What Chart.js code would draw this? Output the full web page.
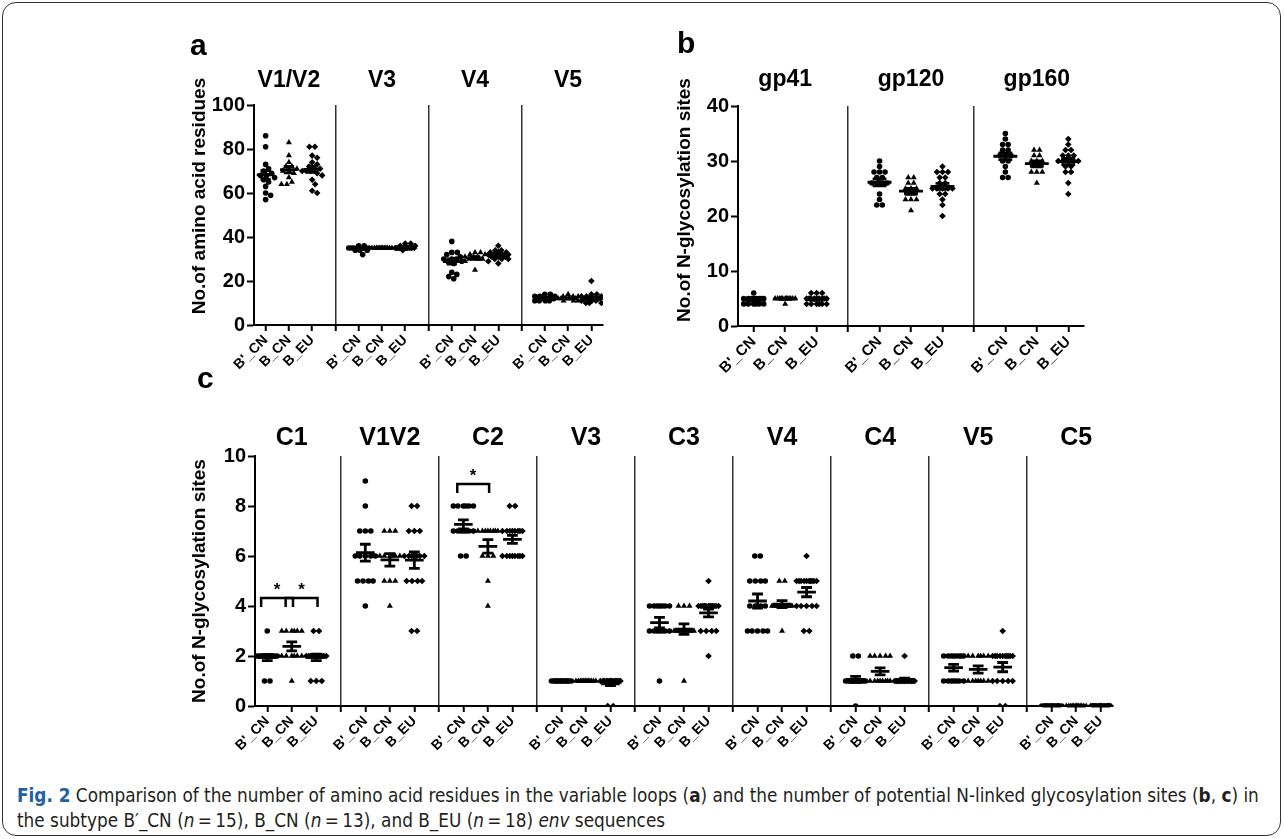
<!DOCTYPE html>
<html>
<head>
<meta charset="utf-8">
<script src="https://cdn.jsdelivr.net/npm/chart.js@4.4.0/dist/chart.umd.min.js"></script>
<style>
    html, body { margin: 0; padding: 0; background: #fff; }
    body { width: 1284px; height: 839px; position: relative; overflow: hidden; font-family: 'Liberation Sans', Arial, sans-serif; }
    #frame { position: absolute; left: 2px; top: 2px; width: 1279px; height: 834px; border: 1.5px solid #333; border-radius: 14px; box-sizing: border-box; }
    canvas { position: absolute; }
    #caption { position: absolute; left: 17px; top: 783px; white-space: nowrap; font-family: 'Liberation Sans Narrow', 'DejaVu Sans Condensed', sans-serif; font-size: 18.8px; line-height: 25px; color: #231f20; }
    #caption .fig { color: #1f5fa6; font-weight: bold; }
</style>
</head>
<body>
<div id="frame"></div>
<canvas id="panelA" width="480" height="370" style="left:150px;top:20px;"></canvas>
<canvas id="panelB" width="460" height="370" style="left:640px;top:20px;"></canvas>
<canvas id="panelC" width="990" height="410" style="left:150px;top:360px;"></canvas>
<div id="caption"><span class="fig">Fig. 2</span> Comparison of the number of amino acid residues in the variable loops (<b>a</b>) and the number of potential N-linked glycosylation sites (<b>b</b>, <b>c</b>) in<br>the subtype B′_CN (<i>n</i>&#8201;=&#8201;15), B_CN (<i>n</i>&#8201;=&#8201;13), and B_EU (<i>n</i>&#8201;=&#8201;18) <i>env</i> sequences</div>

<script>
// group names shown under every region
const groupLabels = ["B'_CN", 'B_CN', 'B_EU'];

// panel a: amino acid residues per variable loop
const regionsA = ['V1/V2', 'V3', 'V4', 'V5'];
const yTicksA = [0, 20, 40, 60, 80, 100];
const aBpCN = [
    [86, 81, 73, 71, 70, 69, 68, 68, 67, 66, 65, 63, 60, 59, 57],
    [36, 36, 35, 35, 35, 35, 35, 35, 35, 35, 35, 34, 34, 34, 32],
    [38, 33, 33, 32, 31, 30, 30, 30, 29, 29, 28, 24, 23, 22, 21],
    [14, 14, 13, 13, 13, 12, 12, 12, 12, 12, 12, 11, 11, 11, 11]
];
const aBCN = [
    [83, 77, 74, 72, 72, 71, 70, 70, 69, 67, 65, 64, 64],
    [35, 35, 35, 35, 35, 35, 35, 35, 35, 35, 35, 35, 35],
    [33, 33, 32, 32, 31, 31, 31, 30, 30, 30, 30, 29, 25],
    [14, 13, 13, 13, 12, 12, 12, 12, 12, 12, 11, 11, 11]
];
const aBEU = [
    [81, 81, 77, 76, 74, 73, 72, 71, 71, 70, 70, 70, 69, 68, 66, 64, 61, 60],
    [37, 37, 36, 36, 35, 35, 35, 35, 35, 35, 35, 35, 35, 35, 35, 35, 35, 34],
    [36, 34, 34, 33, 33, 33, 32, 32, 32, 32, 31, 31, 31, 30, 30, 30, 29, 28],
    [20, 14, 14, 13, 13, 13, 12, 12, 12, 12, 12, 12, 11, 11, 11, 10, 10, 10]
];

// panel b: N-glycosylation sites per protein
const regionsB = ['gp41', 'gp120', 'gp160'];
const yTicksB = [0, 10, 20, 30, 40];
const bBpCN = [
    [6, 5, 5, 5, 5, 5, 5, 5, 5, 4, 4, 4, 4, 4, 4],
    [30, 29, 28, 28, 28, 27, 27, 26, 26, 26, 26, 24, 23, 22, 22],
    [35, 34, 33, 33, 32, 32, 31, 31, 31, 30, 30, 29, 28, 27, 27]
];
const bBCN = [
    [5, 5, 5, 5, 5, 5, 5, 5, 5, 5, 5, 5, 4],
    [27, 27, 26, 26, 25, 25, 25, 24, 24, 23, 23, 23, 21],
    [32, 32, 31, 31, 30, 30, 30, 29, 29, 28, 28, 28, 26]
];
const bBEU = [
    [6, 6, 6, 5, 5, 5, 5, 5, 5, 5, 5, 5, 4, 4, 4, 4, 4, 4],
    [29, 28, 28, 28, 27, 27, 26, 26, 25, 25, 25, 25, 25, 24, 24, 23, 22, 20],
    [34, 33, 32, 32, 31, 31, 31, 30, 30, 30, 30, 30, 29, 29, 28, 28, 26, 24]
];

// panel c: N-glycosylation sites per env region
const regionsC = ['C1', 'V1V2', 'C2', 'V3', 'C3', 'V4', 'C4', 'V5', 'C5'];
const yTicksC = [0, 2, 4, 6, 8, 10];
const cBpCN = [
    [3, 2, 2, 2, 2, 2, 2, 2, 2, 2, 2, 2, 2, 1, 1],
    [9, 8, 7, 7, 7, 6, 6, 6, 6, 6, 5, 5, 5, 5, 4],
    [8, 8, 8, 8, 8, 8, 7, 7, 7, 7, 7, 7, 7, 6, 6],
    [1, 1, 1, 1, 1, 1, 1, 1, 1, 1, 1, 1, 1, 1, 1],
    [4, 4, 4, 4, 4, 4, 4, 3, 3, 3, 3, 3, 3, 3, 1],
    [6, 6, 5, 5, 5, 5, 4, 4, 4, 4, 3, 3, 3, 3, 3],
    [2, 2, 1, 1, 1, 1, 1, 1, 1, 1, 1, 1, 1, 1, 0],
    [2, 2, 2, 2, 2, 2, 2, 2, 1, 1, 1, 1, 1, 1, 1],
    [0, 0, 0, 0, 0, 0, 0, 0, 0, 0, 0, 0, 0, 0, 0]
];
const cBCN = [
    [3, 3, 3, 3, 3, 3, 2, 2, 2, 2, 2, 2, 1],
    [7, 7, 7, 6, 6, 6, 6, 6, 6, 5, 5, 5, 4],
    [7, 7, 7, 7, 7, 7, 7, 7, 6, 6, 6, 5, 4],
    [1, 1, 1, 1, 1, 1, 1, 1, 1, 1, 1, 1, 1],
    [4, 4, 4, 3, 3, 3, 3, 3, 3, 3, 3, 3, 1],
    [5, 5, 4, 4, 4, 4, 4, 4, 4, 4, 4, 4, 3],
    [2, 2, 2, 2, 2, 1, 1, 1, 1, 1, 1, 1, 1],
    [2, 2, 2, 2, 2, 2, 1, 1, 1, 1, 1, 1, 1],
    [0, 0, 0, 0, 0, 0, 0, 0, 0, 0, 0, 0, 0]
];
const cBEU = [
    [3, 3, 2, 2, 2, 2, 2, 2, 2, 2, 2, 2, 2, 2, 2, 1, 1, 1],
    [8, 8, 7, 7, 7, 6, 6, 6, 6, 6, 6, 6, 5, 5, 5, 5, 3, 3],
    [8, 8, 7, 7, 7, 7, 7, 7, 7, 7, 6, 6, 6, 6, 6, 6, 6, 6],
    [1, 1, 1, 1, 1, 1, 1, 1, 1, 1, 1, 1, 1, 1, 1, 1, 0, 0],
    [5, 4, 4, 4, 4, 4, 4, 4, 4, 4, 4, 4, 4, 3, 3, 3, 3, 2],
    [6, 5, 5, 5, 5, 5, 5, 5, 5, 5, 5, 4, 4, 4, 4, 4, 3, 3],
    [2, 1, 1, 1, 1, 1, 1, 1, 1, 1, 1, 1, 1, 1, 1, 1, 1, 1],
    [3, 2, 2, 2, 2, 2, 2, 2, 2, 2, 2, 1, 1, 1, 1, 1, 0, 0],
    [0, 0, 0, 0, 0, 0, 0, 0, 0, 0, 0, 0, 0, 0, 0, 0, 0, 0]
];
// significance brackets: region, from group, to group, height
const sigC = [
    ['C1', 0, 1, 4.32],
    ['C1', 1, 2, 4.32],
    ['C2', 0, 1, 8.88]
];

const FONT = "'Liberation Sans', Arial, sans-serif";
const markerStyles = ['circle', 'triangle', 'rectRot'];
const markerRadius = [2.8, 3.5, 3.3];

// spread the dots of one group sideways so they do not sit on top of each other
function swarm(values, slotPx, unitPx, diam, maxHalf) {
    const placed = [];
    const offs = new Array(values.length).fill(0);
    const cands = [];
    for (let k = 0; k <= Math.round(maxHalf * 2); k++) {
        const o = k / 2;
        cands.push(o);
        if (o > 0) cands.push(-o);
    }
    const order = values.map((v, i) => i).sort((a, b) => values[b] - values[a]);
    order.forEach(i => {
        const y = values[i] * unitPx;
        let best = 0, bestD = -1;
        for (const o of cands) {
            let md = Infinity;
            placed.forEach(p => {
                const d = Math.hypot(o - p.x, y - p.y);
                if (d < md) md = d;
            });
            if (md >= diam) { best = o; break; }
            if (md > bestD + 1e-9) { bestD = md; best = o; }
        }
        placed.push({ x: best, y: y, i: i });
    });
    // rows that stand apart get centred
    const rows = {};
    placed.forEach(p => { (rows[p.y] = rows[p.y] || []).push(p); });
    Object.keys(rows).forEach(k => {
        const row = rows[k];
        const yv = row[0].y;
        const alone = placed.every(p => p.y === yv || Math.abs(p.y - yv) >= diam);
        if (!alone) return;
        const xs = row.map(p => p.x);
        const mid = (Math.min(...xs) + Math.max(...xs)) / 2;
        row.forEach(p => { p.x -= mid; });
    });
    placed.forEach(p => { offs[p.i] = p.x / slotPx; });
    return offs;
}

function meanSem(values) {
    const n = values.length;
    const mean = values.reduce((s, v) => s + v, 0) / n;
    const sd = Math.sqrt(values.reduce((s, v) => s + (v - mean) * (v - mean), 0) / (n - 1));
    return { mean: mean, sem: sd / Math.sqrt(n) };
}

function createPanel(cfg) {
    const canvas = document.getElementById(cfg.id);
    const box = { left: parseFloat(canvas.style.left), top: parseFloat(canvas.style.top) };
    const area = cfg.area;
    const nSlots = cfg.regions.length * 4 - 1;
    const slotPx = (area.right - area.left) / nSlots;
    const ymax = cfg.yTicks[cfg.yTicks.length - 1];
    const unitPx = (area.bottom - area.top) / ymax;

    const datasets = cfg.series.map((groups, g) => {
        const pts = [];
        groups.forEach((vals, r) => {
            const offs = swarm(vals, slotPx, unitPx, 5.2, 10);
            vals.forEach((v, i) => pts.push({ x: r * 4 + g + offs[i], y: v }));
        });
        return {
            data: pts,
            pointStyle: markerStyles[g],
            pointRadius: markerRadius[g],
            backgroundColor: '#000',
            borderColor: '#000',
            borderWidth: 0
        };
    });

    const tickIdx = [];
    for (let i = 0; i < nSlots; i++) tickIdx.push(i);

    const overlay = {
        id: 'overlay' + cfg.id,
        afterDatasetsDraw(chart) {
            const ctx = chart.ctx, xs = chart.scales.x, ys = chart.scales.y;
            ctx.save();
            ctx.strokeStyle = '#000';
            ctx.lineWidth = 2.8;
            cfg.series.forEach((groups, g) => {
                groups.forEach((vals, r) => {
                    const st = meanSem(vals);
                    const cx = xs.getPixelForValue(r * 4 + g);
                    const half = slotPx * 0.38, cap = slotPx * 0.22;
                    const ym = ys.getPixelForValue(st.mean);
                    const yt = ys.getPixelForValue(st.mean + st.sem);
                    const yb = ys.getPixelForValue(st.mean - st.sem);
                    ctx.beginPath();
                    ctx.moveTo(cx - half, ym); ctx.lineTo(cx + half, ym);
                    ctx.moveTo(cx - cap, yt); ctx.lineTo(cx + cap, yt);
                    ctx.moveTo(cx - cap, yb); ctx.lineTo(cx + cap, yb);
                    ctx.moveTo(cx, yt); ctx.lineTo(cx, yb);
                    ctx.stroke();
                });
            });
            ctx.restore();
        },
        afterDraw(chart) {
            const ctx = chart.ctx, xs = chart.scales.x, ys = chart.scales.y;
            ctx.save();
            ctx.fillStyle = '#000';
            ctx.textAlign = 'center';
            ctx.textBaseline = 'alphabetic';
            // region titles
            ctx.font = 'bold ' + cfg.titleSize + 'px ' + FONT;
            cfg.regions.forEach((name, r) => {
                ctx.fillText(name, xs.getPixelForValue(r * 4 + 1), cfg.titleBase - box.top);
            });
            // panel letter
            ctx.textAlign = 'left';
            ctx.font = 'bold 30px ' + FONT;
            ctx.fillText(cfg.letter, cfg.letterPos[0] - box.left, cfg.letterPos[1] - box.top);
            // y axis title
            ctx.translate(cfg.yTitlePos[0] - box.left, cfg.yTitlePos[1] - box.top);
            ctx.rotate(-Math.PI / 2);
            ctx.textAlign = 'center';
            ctx.textBaseline = 'middle';
            ctx.font = 'bold 19px ' + FONT;
            ctx.fillText(cfg.yTitle, 0, 0);
            ctx.restore();
            // significance brackets
            if (cfg.sig) {
                ctx.save();
                ctx.strokeStyle = '#000';
                ctx.lineWidth = 2.5;
                ctx.fillStyle = '#000';
                ctx.font = 'bold 17px ' + FONT;
                ctx.textAlign = 'center';
                cfg.sig.forEach(s => {
                    const r = cfg.regions.indexOf(s[0]);
                    const x1 = xs.getPixelForValue(r * 4 + s[1] - 0.25);
                    const x2 = xs.getPixelForValue(r * 4 + s[2] + 0.05);
                    const yy = ys.getPixelForValue(s[3]);
                    ctx.beginPath();
                    ctx.moveTo(x1, yy + 9); ctx.lineTo(x1, yy); ctx.lineTo(x2, yy); ctx.lineTo(x2, yy + 9);
                    ctx.stroke();
                    ctx.fillText('*', (x1 + x2) / 2, yy - 3);
                });
                ctx.restore();
            }
        }
    };

    return new Chart(canvas, {
        type: 'scatter',
        data: { datasets: datasets },
        options: {
            responsive: false,
            animation: false,
            layout: { padding: { top: area.top - box.top, right: canvas.width - (area.right - box.left), left: 0, bottom: 0 } },
            plugins: { legend: { display: false }, tooltip: { enabled: false } },
            scales: {
                x: {
                    type: 'linear',
                    min: -0.5,
                    max: nSlots - 0.5,
                    afterBuildTicks: (scale) => { scale.ticks = tickIdx.map(v => ({ value: v })); },
                    afterFit: (scale) => { scale.height = canvas.height - (area.bottom - box.top); },
                    ticks: {
                        autoSkip: false,
                        maxRotation: 45,
                        minRotation: 45,
                        padding: 1,
                        color: '#000',
                        font: { family: FONT, size: cfg.xTickSize, weight: 'bold' },
                        callback: (v) => (v % 4 === 3 ? '' : groupLabels[v % 4])
                    },
                    grid: {
                        drawOnChartArea: true,
                        color: (c) => (c.tick && c.tick.value % 4 === 3 ? '#333' : 'rgba(0,0,0,0)'),
                        lineWidth: 1.5,
                        tickColor: '#000',
                        tickWidth: 2,
                        tickLength: 6
                    },
                    border: { color: '#000', width: 2 }
                },
                y: {
                    min: 0,
                    max: ymax,
                    afterBuildTicks: (scale) => { scale.ticks = cfg.yTicks.map(v => ({ value: v })); },
                    afterFit: (scale) => { scale.width = area.left - box.left; },
                    ticks: {
                        padding: 2,
                        color: '#000',
                        font: { family: FONT, size: 20, weight: 'bold' }
                    },
                    grid: { drawOnChartArea: false, tickColor: '#000', tickWidth: 2, tickLength: 7 },
                    border: { color: '#000', width: 2 }
                }
            }
        },
        plugins: [overlay]
    });
}

document.addEventListener('DOMContentLoaded', function() {
    createPanel({
        id: 'panelA', regions: regionsA, series: [aBpCN, aBCN, aBEU], yTicks: yTicksA,
        area: { left: 254, top: 105, right: 603, bottom: 325 },
        titleSize: 23, titleBase: 87, xTickSize: 14,
        letter: 'a', letterPos: [190, 55],
        yTitle: 'No.of amino acid residues', yTitlePos: [200, 196]
    });
    createPanel({
        id: 'panelB', regions: regionsB, series: [bBpCN, bBCN, bBEU], yTicks: yTicksB,
        area: { left: 738, top: 106, right: 1084, bottom: 326 },
        titleSize: 23, titleBase: 86, xTickSize: 15,
        letter: 'b', letterPos: [677, 53],
        yTitle: 'No.of N-glycosylation sites', yTitlePos: [685, 200]
    });
    createPanel({
        id: 'panelC', regions: regionsC, series: [cBpCN, cBCN, cBEU], yTicks: yTicksC,
        area: { left: 255, top: 456, right: 1113, bottom: 706 },
        titleSize: 25, titleBase: 445, xTickSize: 14,
        letter: 'c', letterPos: [197, 388],
        yTitle: 'No.of N-glycosylation sites', yTitlePos: [200, 581],
        sig: sigC
    });
});
</script>
</body>
</html>
